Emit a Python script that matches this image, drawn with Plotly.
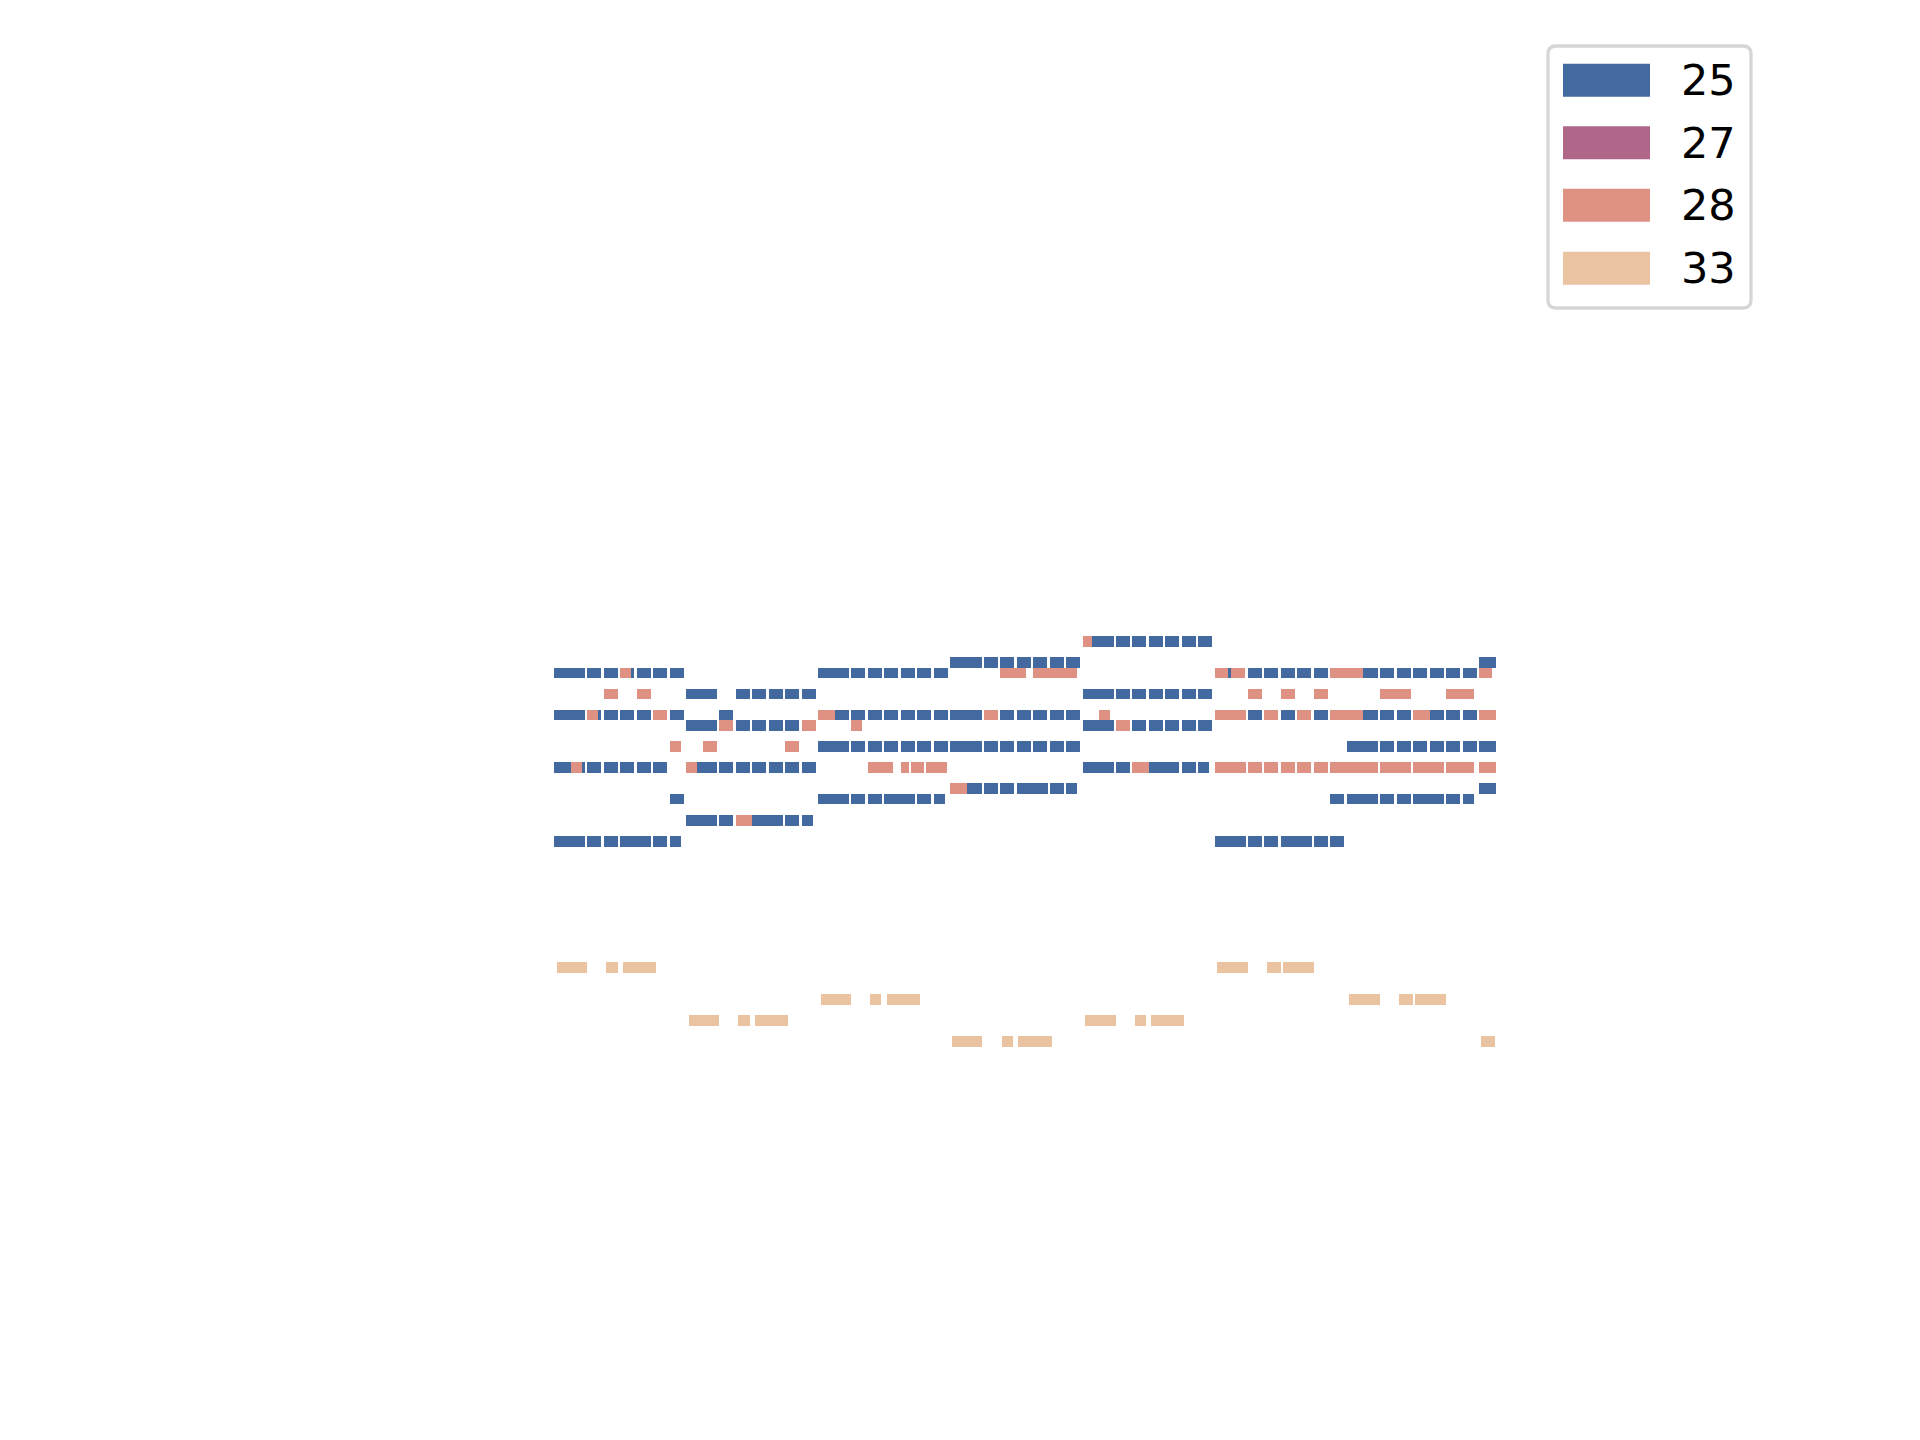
import plotly.graph_objects as go

# ---------------- data ----------------
programs = ["25", "27", "28", "33"]
program_colors = ["#4269a0", "#b06689", "#df9283", "#eac3a0"]

# notes as (pitch, onset in beats, duration in beats)
notes_25 = [
    # section 1
    (80, 0, 1.88), (80, 2, .85), (80, 3, .85), (80, 4, .85), (80, 5, .85), (80, 6, .85), (80, 7, .85),
    (76, 0, 1.88), (76, 2, .85), (76, 3, .85), (76, 4, .85), (76, 5, .85), (76, 7, .85),
    (71, 0, 1.88), (71, 2, .85), (71, 3, .85), (71, 4, .85), (71, 5, .85), (71, 6, .85),
    (68, 7, .85),
    (64, 0, 1.88), (64, 2, .85), (64, 3, .85), (64, 4, 1.88), (64, 6, .85), (64, 7, .67),
    # section 2
    (78, 8, 1.88), (78, 11, .85), (78, 12, .85), (78, 13, .85), (78, 14, .85), (78, 15, .85),
    (76, 10, .85),
    (75, 8, 1.88), (75, 11, .85), (75, 12, .85), (75, 13, .85), (75, 14, .85),
    (71, 8, 1.88), (71, 10, .85), (71, 11, .85), (71, 12, .85), (71, 13, .85), (71, 14, .85), (71, 15, .85),
    (66, 8, 1.88), (66, 10, .85), (66, 12, 1.88), (66, 14, .85), (66, 15, .67),
    # section 3
    (80, 16, 1.88), (80, 18, .85), (80, 19, .85), (80, 20, .85), (80, 21, .85), (80, 22, .85), (80, 23, .85),
    (76, 16, 1.88), (76, 18, .85), (76, 19, .85), (76, 20, .85), (76, 21, .85), (76, 22, .85), (76, 23, .85),
    (73, 16, 1.88), (73, 18, .85), (73, 19, .85), (73, 20, .85), (73, 21, .85), (73, 22, .85), (73, 23, .85),
    (68, 16, 1.88), (68, 18, .85), (68, 19, .85), (68, 20, 1.88), (68, 22, .85), (68, 23, .67),
    # section 4
    (81, 24, 1.88), (81, 26, .85), (81, 27, .85), (81, 28, .85), (81, 29, .85), (81, 30, .85), (81, 31, .85),
    (76, 24, 1.88), (76, 27, .85), (76, 28, .85), (76, 29, .85), (76, 30, .85), (76, 31, .85),
    (73, 24, 1.88), (73, 26, .85), (73, 27, .85), (73, 28, .85), (73, 29, .85), (73, 30, .85), (73, 31, .85),
    (69, 24, 1.88), (69, 26, .85), (69, 27, .85), (69, 28, 1.88), (69, 30, .85), (69, 31, .67),
    # section 5
    (83, 32, 1.88), (83, 34, .85), (83, 35, .85), (83, 36, .85), (83, 37, .85), (83, 38, .85), (83, 39, .85),
    (78, 32, 1.88), (78, 34, .85), (78, 35, .85), (78, 36, .85), (78, 37, .85), (78, 38, .85), (78, 39, .85),
    (75, 32, 1.88), (75, 35, .85), (75, 36, .85), (75, 37, .85), (75, 38, .85), (75, 39, .85),
    (71, 32, 1.88), (71, 34, .85), (71, 35, 2.85), (71, 38, .85), (71, 39, .67),
    # section 6
    (80, 40, 1.0), (80, 42, .85), (80, 43, .85), (80, 44, .85), (80, 45, .85), (80, 46, .85),
    (76, 42, .85), (76, 44, .85), (76, 46, .85),
    (64, 40, 1.88), (64, 42, .85), (64, 43, .85), (64, 44, 1.88), (64, 46, .85), (64, 47, .85),
    (68, 47, .85),
    # section 7
    (80, 48, 1.88), (80, 50, .85), (80, 51, .85), (80, 52, .85), (80, 53, .85), (80, 54, .85), (80, 55, .85),
    (76, 48, 1.88), (76, 50, .85), (76, 51, .85), (76, 53, .85), (76, 54, .85), (76, 55, .85),
    (73, 48, 1.88), (73, 50, .85), (73, 51, .85), (73, 52, .85), (73, 53, .85), (73, 54, .85), (73, 55, .85),
    (73, 56, 1.0),
    (68, 48, 1.88), (68, 50, .85), (68, 51, .85), (68, 52, 1.88), (68, 54, .85), (68, 55, .67),
    (81, 56, 1.0), (69, 56, 1.0),
]

notes_27 = []

notes_28 = [
    (71, 1, .67), (76, 2, .67), (78, 3, .85), (80, 4, .67), (78, 5, .85), (76, 6, .85), (73, 7, .67),
    (71, 8, .67), (73, 9, .85), (75, 10, .85), (66, 11, 1.0), (73, 14, .85), (75, 15, .85),
    (76, 16, 1.0), (75, 18, .67), (71, 19, 1.5), (71, 21, .5), (71, 21.6, .8), (71, 22.5, 1.3),
    (69, 24, 1.0), (76, 26, .85), (80, 27, 1.55), (80, 29, 2.67),
    (83, 32, .55), (76, 33, .67), (75, 34, .85), (71, 35, 1.0),
    (80, 40, .8), (80, 41, .85), (78, 42, .85), (78, 44, .85), (78, 46, .85),
    (76, 40, 1.88), (76, 43, .85), (76, 45, .85),
    (71, 40, 1.88), (71, 42, .85), (71, 43, .85), (71, 44, .85), (71, 45, .85), (71, 46, .85),
    (80, 47, 2.0), (76, 47, 2.0), (71, 47, 2.85),
    (78, 50, 1.88), (78, 54, 1.67), (76, 52, 1.0),
    (71, 50, 1.88), (71, 52, 1.88), (71, 54, 1.67),
    (80, 56, .8), (76, 56, 1.0), (71, 56, 1.0),
]

notes_33 = [
    (52, 0.18, 1.82), (52, 3.15, .73), (52, 4.18, 2.0),
    (47, 8.17, 1.82), (47, 11.14, .73), (47, 12.17, 2.0),
    (49, 16.16, 1.82), (49, 19.13, .67), (49, 20.16, 2.0),
    (45, 24.1, 1.82), (45, 27.12, .67), (45, 28.09, 2.06),
    (47, 32.14, 1.88), (47, 35.17, .67), (47, 36.14, 2.0),
    (52, 40.13, 1.88), (52, 43.16, .85), (52, 44.13, 1.88),
    (49, 48.12, 1.88), (49, 51.15, .85), (49, 52.12, 1.88),
    (45, 56.11, .85),
]

all_notes = [notes_25, notes_27, notes_28, notes_33]

# ---------------- figure ----------------
W, H = 1920, 1440
fig = go.Figure()

for prog, col, notes in zip(programs, program_colors, all_notes):
    fig.add_trace(go.Bar(
        orientation="h",
        y=[n[0] for n in notes],
        x=[n[2] for n in notes],
        base=[n[1] for n in notes],
        width=1.0,
        marker=dict(color=col, line=dict(width=0)),
        name=prog,
        showlegend=False,
        hoverinfo="skip",
    ))

# legend (drawn manually to match the wide patch style)
def px(x):
    return x / W

def py(y):
    return 1 - y / H

x0, x1, y0, y1, r = 1548, 1751, 46, 308, 8
path = (
    f"M {px(x0 + r)},{py(y0)} L {px(x1 - r)},{py(y0)} Q {px(x1)},{py(y0)} {px(x1)},{py(y0 + r)} "
    f"L {px(x1)},{py(y1 - r)} Q {px(x1)},{py(y1)} {px(x1 - r)},{py(y1)} "
    f"L {px(x0 + r)},{py(y1)} Q {px(x0)},{py(y1)} {px(x0)},{py(y1 - r)} "
    f"L {px(x0)},{py(y0 + r)} Q {px(x0)},{py(y0)} {px(x0 + r)},{py(y0)} Z"
)
shapes = [dict(type="path", path=path, xref="paper", yref="paper",
               line=dict(color="#d6d6d6", width=3.3), fillcolor="white", layer="above")]
annotations = []
row_centers = [80.3, 142.8, 205.3, 268.3]
for prog, col, yc in zip(programs, program_colors, row_centers):
    shapes.append(dict(type="rect", xref="paper", yref="paper",
                       x0=px(1563), x1=px(1650), y0=py(yc - 16.5), y1=py(yc + 16.5),
                       fillcolor=col, line=dict(width=0), layer="above"))
    annotations.append(dict(text=prog, xref="paper", yref="paper",
                            x=px(1679), y=py(yc), xanchor="left", yanchor="middle",
                            showarrow=False,
                            font=dict(family="DejaVu Sans", size=43, color="black")))

beat_px = 16.52
origin_px = 554
unit_px = 10.53
p64_center_px = 841.3

fig.update_layout(
    width=W, height=H,
    margin=dict(l=0, r=0, t=0, b=0),
    paper_bgcolor="white", plot_bgcolor="white",
    barmode="overlay",
    bargap=0,
    xaxis=dict(range=[-origin_px / beat_px, (W - origin_px) / beat_px], visible=False, fixedrange=True),
    yaxis=dict(range=[64 - (H - p64_center_px) / unit_px, 64 + p64_center_px / unit_px],
               visible=False, fixedrange=True),
    shapes=shapes,
    annotations=annotations,
    showlegend=False,
)

fig.write_html("out.html")
